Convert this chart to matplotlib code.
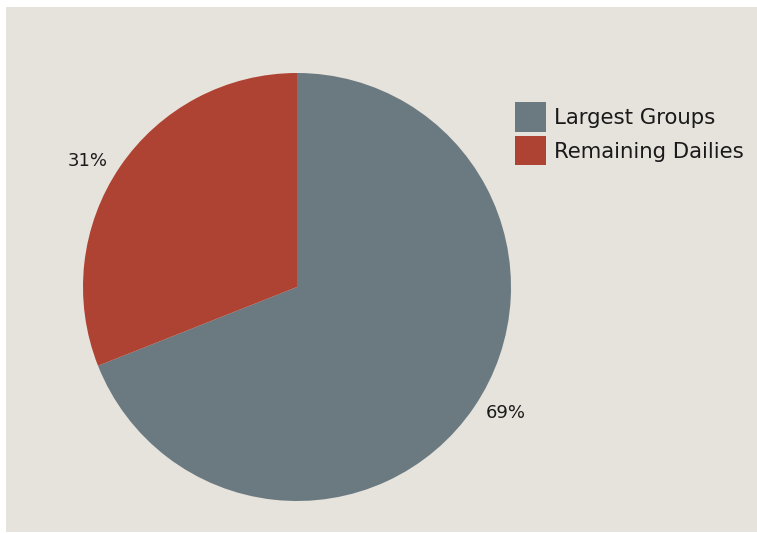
import math
from matplotlib import pyplot as plt
from matplotlib.patches import Rectangle, Patch

labels = ['Largest Groups', 'Remaining Dailies']
shares = [69, 31]
colors = ['#6b7a81', '#af4333']

W, H = 757, 533
fig = plt.figure(figsize=(W / 100, H / 100), dpi=100)
fig.patch.set_facecolor('white')

# beige panel with a thin white margin on top and left
fig.patches.append(Rectangle((6 / W, 1 / H), 1 - 6 / W, (H - 8) / H,
                             transform=fig.transFigure, facecolor='#e6e2dc',
                             edgecolor='none', zorder=-1))

# pie centre (297, 287) px, radius 214 px
cx, cy, r = 297, 287, 214
ax = fig.add_axes([(cx - r) / W, (H - cy - r) / H, 2 * r / W, 2 * r / H])
ax.set_zorder(1)

wedges, texts, autotexts = ax.pie(shares, colors=colors, startangle=90,
                                  counterclock=False, radius=1,
                                  autopct='%d%%', pctdistance=1.14,
                                  textprops={'fontsize': 13, 'color': '#1a1a1a'},
                                  wedgeprops={'linewidth': 0})
ax.set_xlim(-1, 1)
ax.set_ylim(-1, 1)
ax.axis('off')

# percentage labels sit a little counter-clockwise of the wedge middle
shift = math.radians(3.2)
for t in autotexts:
    x, y = t.get_position()
    t.set_position((x * math.cos(shift) - y * math.sin(shift),
                    x * math.sin(shift) + y * math.cos(shift)))
    t.set_clip_on(False)

handles = [Patch(facecolor=c, edgecolor='none') for c in colors]
leg = fig.legend(handles, labels, loc='upper left',
                 bbox_to_anchor=(509 / W, 1 - 96 / H),
                 frameon=False, fontsize=15.3, handlelength=1.45,
                 handleheight=1.75, handletextpad=0.35, labelspacing=0.2,
                 borderaxespad=0, borderpad=0.3)
leg.set_zorder(2)
for t in leg.get_texts():
    t.set_color('#1a1a1a')

fig.savefig('out.png', dpi=100, facecolor=fig.get_facecolor())
